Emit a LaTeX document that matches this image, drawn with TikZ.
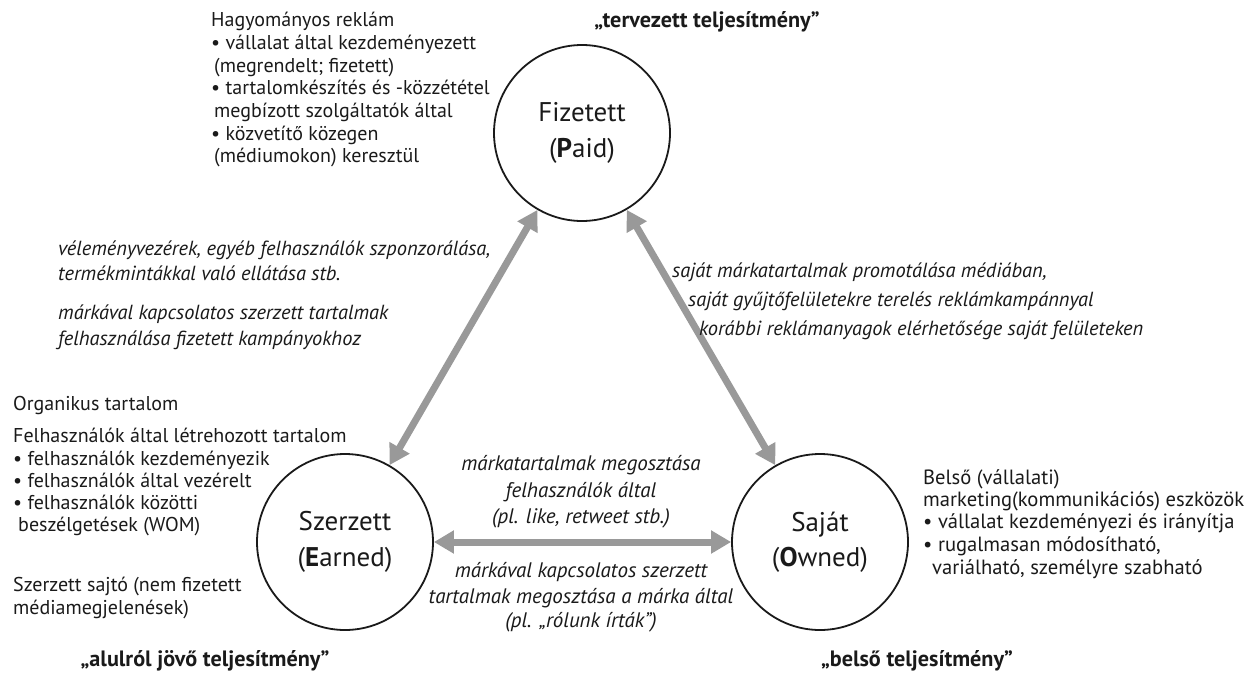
\documentclass[tikz,border=0pt]{standalone}
\usepackage{fontspec}
\setmainfont{PT Sans}
\usetikzlibrary{arrows.meta}
\definecolor{arrowgray}{HTML}{999999}
\definecolor{ink}{HTML}{1A1A1A}
\begin{document}
\begin{tikzpicture}[x=1pt,y=-1pt,
  tx/.style={inner sep=0pt, anchor=base west, text=ink, font=\fontsize{20}{23}\selectfont},
  txr/.style={inner sep=0pt, anchor=base west, text=ink, font=\fontsize{20.6}{23}\selectfont},
  it/.style={inner sep=0pt, anchor=base west, text=ink, font=\fontsize{20.4}{23}\selectfont\itshape},
  itc/.style={inner sep=0pt, anchor=base, text=ink, font=\fontsize{21}{23}\selectfont\itshape},
  bd/.style={inner sep=0pt, anchor=base, text=ink, font=\fontsize{22.2}{25}\selectfont\bfseries},
  circ/.style={circle, draw=ink, line width=1.8pt, minimum size=176pt, inner sep=0pt, align=center, text=ink, font=\fontsize{27}{35.5}\selectfont},
  arr/.style={draw=arrowgray, line width=7pt, {Triangle[length=20pt,width=22pt]}-{Triangle[length=20pt,width=22pt]}}]
\useasboundingbox (0,0) rectangle (1260,672);
\fill[white] (0,0) rectangle (1260,672);

% circles
\node[circ] (P) at (582,133) {Fizetett\\(\textbf{P}aid)};
\node[circ] (E) at (345,542) {Szerzett\\(\textbf{E}arned)};
\node[circ] (O) at (820,542) {Saját\\(\textbf{O}wned)};

% arrows
\draw[arr] (P) -- (E);
\draw[arr] (P) -- (O);
\draw[arr] (E) -- (O);

% top-left block
\node[tx] (t1) at (211,26.5) {Hagyományos reklám};
\node[tx] (t2) at (211,49.3) {• vállalat által kezdeményezett};
\node[tx] (t3) at (214,72) {(megrendelt; fizetett)};
\node[tx] (t4) at (211,94.7) {• tartalomkészítés és -közzététel};
\node[tx] (t5) at (214,117.4) {megbízott szolgáltatók által};
\node[tx] (t6) at (211,140.1) {• közvetítő közegen};
\node[tx] (t7) at (214,162.8) {(médiumokon) keresztül};

\node[bd] (tp) at (707,27) {„tervezett teljesítmény”};

% left italic block
\node[it] (l1) at (58,255) {véleményvezérek, egyéb felhasználók szponzorálása,};
\node[it] (l2) at (58,280) {termékmintákkal való ellátása stb.};
\node[it] (l3) at (58,319) {márkával kapcsolatos szerzett tartalmak};
\node[it] (l4) at (58,345) {felhasználása fizetett kampányokhoz};

% right italic block
\node[it] (r1) at (672,277) {saját márkatartalmak promotálása médiában,};
\node[it] (r2) at (688,306) {saját gyűjtőfelületekre terelés reklámkampánnyal};
\node[it] (r3) at (699,335) {korábbi reklámanyagok elérhetősége saját felületeken};

% left lower block
\node[tx] (e1) at (13,410) {Organikus tartalom};
\node[tx] (e2) at (13,442) {Felhasználók által létrehozott tartalom};
\node[tx] (e3) at (13,465) {• felhasználók kezdeményezik};
\node[tx] (e4) at (13,487) {• felhasználók által vezérelt};
\node[tx] (e5) at (13,509) {• felhasználók közötti};
\node[tx] (e6) at (18,531) {beszélgetések (WOM)};
\node[tx] (e7) at (13,591) {Szerzett sajtó (nem fizetett};
\node[tx] (e8) at (13,614) {médiamegjelenések)};

% middle texts
\node[itc] (m1) at (581,470) {márkatartalmak megosztása};
\node[itc] (m2) at (581,497) {felhasználók által};
\node[itc] (m3) at (581,523) {(pl. like, retweet stb.)};
\node[itc] (m4) at (581,577) {márkával kapcsolatos szerzett};
\node[itc] (m5) at (581,603) {tartalmak megosztása a márka által};
\node[itc] (m6) at (581,627) {(pl. „rólunk írták”)};

% right lower block
\node[txr] (o1) at (923,484) {Belső (vállalati)};
\node[txr] (o2) at (923,506) {marketing(kommunikációs) eszközök};
\node[txr] (o3) at (923,528) {• vállalat kezdeményezi és irányítja};
\node[txr] (o4) at (923,551) {• rugalmasan módosítható,};
\node[txr] (o5) at (932,574) {variálható, személyre szabható};

% bottom labels
\node[bd] (be) at (205,666) {„alulról jövő teljesítmény”};
\node[bd] (bo) at (917,666) {„belső teljesítmény”};
\end{tikzpicture}
\end{document}
